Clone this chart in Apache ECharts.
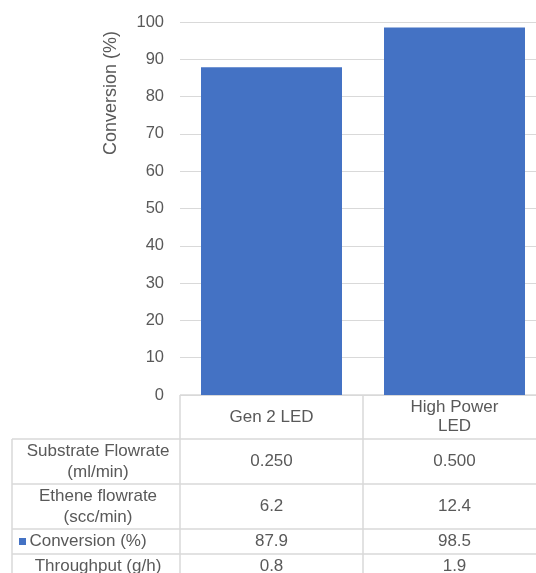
<!DOCTYPE html>
<html>
<head>
<meta charset="utf-8">
<script src="https://cdn.jsdelivr.net/npm/echarts@6/dist/echarts.min.js"></script>
<style>
  html, body { margin: 0; padding: 0; background: #fff; }
  #chart { width: 536px; height: 573px; }
</style>
</head>
<body>
<div id="chart"></div>
<script>
const categories = ["Gen 2 LED", "High Power\nLED"];
const conversion = [87.9, 98.5];
const rowLabels = ["Substrate Flowrate\n(ml/min)", "Ethene flowrate\n(scc/min)", "Conversion (%)", "Throughput (g/h)"];
const substrateFlow = ["0.250", "0.500"];
const etheneFlow = ["6.2", "12.4"];
const conversionText = ["87.9", "98.5"];
const throughput = ["0.8", "1.9"];
const tableRows = [substrateFlow, etheneFlow, conversionText, throughput];

const textColor = "#595959";
const lineColor = "#d9d9d9";
const barColor = "#4472c4";
const font = "Liberation Sans, Arial, sans-serif";

const chart = echarts.init(document.getElementById("chart"));

const gridLeft = 180, gridTop = 22, gridHeight = 373, gridWidth = 366;

chart.setOption({
  animation: false,
  grid: { left: gridLeft, top: gridTop, width: gridWidth, height: gridHeight, outerBoundsMode: "none", containLabel: false },
  xAxis: {
    type: "category",
    data: categories,
    axisLine: { show: false },
    axisTick: { show: false },
    axisLabel: {
      color: textColor, fontSize: 17, fontFamily: font,
      verticalAlign: "middle", margin: 22, lineHeight: 19, interval: 0
    }
  },
  yAxis: {
    type: "value",
    min: 0, max: 100, interval: 10,
    axisLine: { show: false },
    axisTick: { show: false },
    axisLabel: { color: textColor, fontSize: 16.5, fontFamily: font, margin: 16 },
    splitLine: { lineStyle: { color: lineColor, width: 1 } }
  },
  series: [{
    type: "bar",
    data: conversion,
    barWidth: 141,
    itemStyle: { color: barColor }
  }]
});

// data table under the plot
const rowBounds = [395, 439, 484, 529, 554, 579];
const tableLeft = 12;
const colCenters = categories.map((c, i) => chart.convertToPixel({ xAxisIndex: 0 }, i));
const colDivider = (colCenters[0] + colCenters[1]) / 2;
const plotRight = gridLeft + gridWidth;
const labelCenter = 98;

const graphics = [];
const line = (x1, y1, x2, y2) => graphics.push({
  type: "line", shape: { x1, y1, x2, y2 },
  style: { stroke: lineColor, lineWidth: 1.5 }, silent: true
});

// horizontal borders
line(gridLeft, rowBounds[0], plotRight, rowBounds[0]);
for (let r = 1; r < rowBounds.length; r++) line(tableLeft, rowBounds[r], plotRight, rowBounds[r]);
// vertical borders
line(gridLeft, rowBounds[0], gridLeft, rowBounds[rowBounds.length - 1]);
line(colDivider, rowBounds[0], colDivider, rowBounds[rowBounds.length - 1]);
line(tableLeft, rowBounds[1], tableLeft, rowBounds[rowBounds.length - 1]);

rowLabels.forEach((label, r) => {
  const cy = (rowBounds[r + 1] + rowBounds[r + 2]) / 2;
  let cx = labelCenter;
  if (r === 2) {
    graphics.push({
      type: "rect", shape: { x: 19, y: cy - 3.5, width: 7, height: 7 },
      style: { fill: barColor }, silent: true
    });
    cx = 88;
  }
  graphics.push({
    type: "text", x: cx, y: cy,
    style: {
      text: label, fill: textColor, font: "17px " + font,
      align: "center", verticalAlign: "middle", lineHeight: 21
    },
    silent: true
  });
  tableRows[r].forEach((v, c) => {
    graphics.push({
      type: "text", x: colCenters[c], y: cy,
      style: { text: v, fill: textColor, font: "17px " + font, align: "center", verticalAlign: "middle" },
      silent: true
    });
  });
});

// y-axis title
graphics.push({
  type: "text", x: 111, y: 93, rotation: Math.PI / 2,
  style: {
    text: "Conversion (%)", fill: textColor, font: "18px " + font,
    align: "center", verticalAlign: "middle"
  },
  silent: true
});

chart.setOption({ graphic: graphics });
</script>
</body>
</html>
